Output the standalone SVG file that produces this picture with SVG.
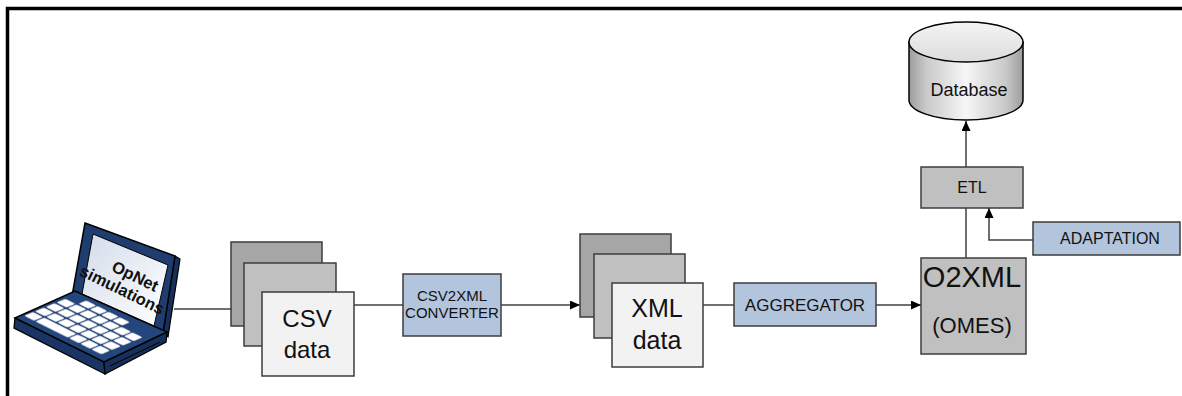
<svg xmlns="http://www.w3.org/2000/svg" width="1182" height="396" viewBox="0 0 1182 396">
  <defs>
    <style>
      .lbl { font-family: "Liberation Sans", Arial, sans-serif; fill: #111; text-anchor: middle; }
      .box { stroke: #3c3c3c; stroke-width: 1.5; }
      .blue { fill: #b3c5dc; }
      .grey { fill: #c0c0c0; }
      .back { fill: #a6a6a6; }
      .mid { fill: #c0c0c0; }
      .front { fill: #f2f2f2; }
      .wire { fill: none; stroke: #404040; stroke-width: 1.5; }
      .key { fill: #ffffff; stroke: #c4cad6; stroke-width: 0.8; }
    </style>
    <marker id="arrow" markerUnits="userSpaceOnUse" markerWidth="11" markerHeight="9" refX="10" refY="4.5" orient="auto">
      <path d="M0,0 L10,4.5 L0,9 Z" fill="#000"/>
    </marker>
    <linearGradient id="cylSide" x1="0" y1="0" x2="1" y2="0">
      <stop offset="0" stop-color="#9c9c9c"/>
      <stop offset="0.15" stop-color="#c9c9c9"/>
      <stop offset="0.5" stop-color="#f6f6f6"/>
      <stop offset="0.85" stop-color="#c9c9c9"/>
      <stop offset="1" stop-color="#9c9c9c"/>
    </linearGradient>
    <linearGradient id="cylTop" x1="0" y1="0" x2="0" y2="1">
      <stop offset="0" stop-color="#f4f4f4"/>
      <stop offset="1" stop-color="#dcdcdc"/>
    </linearGradient>
    <linearGradient id="screen" x1="0" y1="0" x2="1" y2="1">
      <stop offset="0" stop-color="#d3dcea"/>
      <stop offset="1" stop-color="#ffffff"/>
    </linearGradient>
  </defs>

  <!-- page frame -->
  <path d="M7.5,396 V8.5 H1182" fill="none" stroke="#000" stroke-width="3.5"/>

  <!-- connectors -->
  <g id="connectors">
    <path class="wire" d="M174,309 H231"/>
    <path class="wire" d="M354,305 H403"/>
    <path class="wire" d="M501,305 H580" marker-end="url(#arrow)"/>
    <path class="wire" d="M703,305 H734"/>
    <path class="wire" d="M876,305 H921" marker-end="url(#arrow)"/>
    <path class="wire" d="M966,258 V208"/>
    <path class="wire" d="M966,167 V121" marker-end="url(#arrow)"/>
    <path class="wire" d="M1033,240 H989 V208" marker-end="url(#arrow)"/>
  </g>

  <!-- laptop -->
  <g id="laptop">
    <!-- lid -->
    <polygon points="175,256 180,259 168,337 163,333" fill="#16305a" stroke="#000" stroke-width="1.2"/>
    <polygon points="85,223 175,256 163,333 72,296" fill="#1f3d6e" stroke="#000" stroke-width="1.5"/>
    <polygon points="93,234 168,265 154,326 82,294" fill="url(#screen)" stroke="#000" stroke-width="1"/>
    <!-- base -->
    <polygon points="15,318 104,362 105,374 14,328" fill="#1a3563" stroke="#000" stroke-width="1.3"/>
    <polygon points="104,362 167,332 166,342 105,374" fill="#17305a" stroke="#000" stroke-width="1.3"/>
    <polygon points="15,318 75,291 167,332 104,362" fill="#24467c" stroke="#000" stroke-width="1.5"/>
    <path d="M110,366 L160,342" stroke="#000" stroke-width="1" fill="none"/>
    <!-- keyboard -->
    <g transform="matrix(0.8,0.4,0.54,-0.22,22,316)">
      <rect class="key" x="1" y="3" width="12" height="16" rx="2"/>
      <rect class="key" x="15" y="3" width="40" height="16" rx="2"/>
      <rect class="key" x="57" y="3" width="12" height="16" rx="2"/>
      <rect class="key" x="71" y="3" width="12" height="16" rx="2"/>
      <rect class="key" x="85" y="3" width="12" height="16" rx="2"/>
      <rect class="key" x="1" y="23" width="12" height="16" rx="2"/>
      <rect class="key" x="15" y="23" width="12" height="16" rx="2"/>
      <rect class="key" x="29" y="23" width="12" height="16" rx="2"/>
      <rect class="key" x="43" y="23" width="12" height="16" rx="2"/>
      <rect class="key" x="57" y="23" width="12" height="16" rx="2"/>
      <rect class="key" x="71" y="23" width="12" height="16" rx="2"/>
      <rect class="key" x="85" y="23" width="12" height="16" rx="2"/>
      <rect class="key" x="1" y="43" width="12" height="16" rx="2"/>
      <rect class="key" x="15" y="43" width="12" height="16" rx="2"/>
      <rect class="key" x="29" y="43" width="12" height="16" rx="2"/>
      <rect class="key" x="43" y="43" width="12" height="16" rx="2"/>
      <rect class="key" x="57" y="43" width="12" height="16" rx="2"/>
      <rect class="key" x="71" y="43" width="12" height="16" rx="2"/>
      <rect class="key" x="85" y="43" width="12" height="16" rx="2"/>
      <rect class="key" x="1" y="63" width="12" height="16" rx="2"/>
      <rect class="key" x="15" y="63" width="12" height="16" rx="2"/>
      <rect class="key" x="29" y="63" width="12" height="16" rx="2"/>
      <rect class="key" x="43" y="63" width="12" height="16" rx="2"/>
      <rect class="key" x="57" y="63" width="12" height="16" rx="2"/>
      <rect class="key" x="71" y="63" width="12" height="16" rx="2"/>
      <rect class="key" x="85" y="63" width="12" height="16" rx="2"/>
      <rect class="key" x="15" y="83" width="12" height="14" rx="2"/>
      <rect class="key" x="29" y="83" width="12" height="14" rx="2"/>
      <rect class="key" x="43" y="83" width="12" height="14" rx="2"/>
      <rect class="key" x="57" y="83" width="12" height="14" rx="2"/>
    </g>
    <g transform="translate(127,284) rotate(26)" font-weight="bold" font-size="16.5">
      <text class="lbl" x="4" y="-5">OpNet</text>
      <text class="lbl" x="-2" y="13">simulations</text>
    </g>
  </g>

  <!-- CSV data stack -->
  <g id="csv-data">
    <rect class="box back" x="231" y="242" width="91" height="84"/>
    <rect class="box mid" x="244" y="263" width="92" height="83"/>
    <rect class="box front" x="262" y="292" width="92" height="84"/>
    <text class="lbl" x="307" y="327" font-size="24">CSV</text>
    <text class="lbl" x="307" y="358" font-size="24">data</text>
  </g>

  <!-- CSV2XML converter -->
  <g id="csv2xml">
    <rect class="box blue" x="403" y="274" width="98" height="62"/>
    <text class="lbl" x="452" y="301" font-size="15">CSV2XML</text>
    <text class="lbl" x="452" y="318" font-size="15">CONVERTER</text>
  </g>

  <!-- XML data stack -->
  <g id="xml-data">
    <rect class="box back" x="580" y="234" width="91" height="83"/>
    <rect class="box mid" x="594" y="254" width="91" height="84"/>
    <rect class="box front" x="612" y="283" width="91" height="84"/>
    <text class="lbl" x="657" y="317" font-size="25">XML</text>
    <text class="lbl" x="657" y="349" font-size="25">data</text>
  </g>

  <!-- aggregator -->
  <g id="aggregator">
    <rect class="box blue" x="734" y="283" width="142" height="43"/>
    <text class="lbl" x="805" y="311" font-size="17">AGGREGATOR</text>
  </g>

  <!-- O2XML (OMES) -->
  <g id="o2xml">
    <rect class="box grey" x="921" y="258" width="105" height="96"/>
    <text class="lbl" x="972" y="287" font-size="29">O2XML</text>
    <text class="lbl" x="972" y="333" font-size="22">(OMES)</text>
  </g>

  <!-- ETL -->
  <g id="etl">
    <rect class="box grey" x="921" y="167" width="102" height="41"/>
    <text class="lbl" x="972" y="193" font-size="16">ETL</text>
  </g>

  <!-- adaptation -->
  <g id="adaptation">
    <rect class="box blue" x="1033" y="222" width="147" height="33"/>
    <text class="lbl" x="1110" y="244" font-size="16">ADAPTATION</text>
  </g>

  <!-- database -->
  <g id="database">
    <path d="M909,42 V100 A57,20 0 0 0 1023,100 V42 Z" fill="url(#cylSide)" stroke="#000" stroke-width="1.5"/>
    <ellipse cx="966" cy="42" rx="57" ry="20" fill="url(#cylTop)" stroke="#000" stroke-width="1.5"/>
    <text class="lbl" x="969" y="96" font-size="18">Database</text>
  </g>
</svg>
